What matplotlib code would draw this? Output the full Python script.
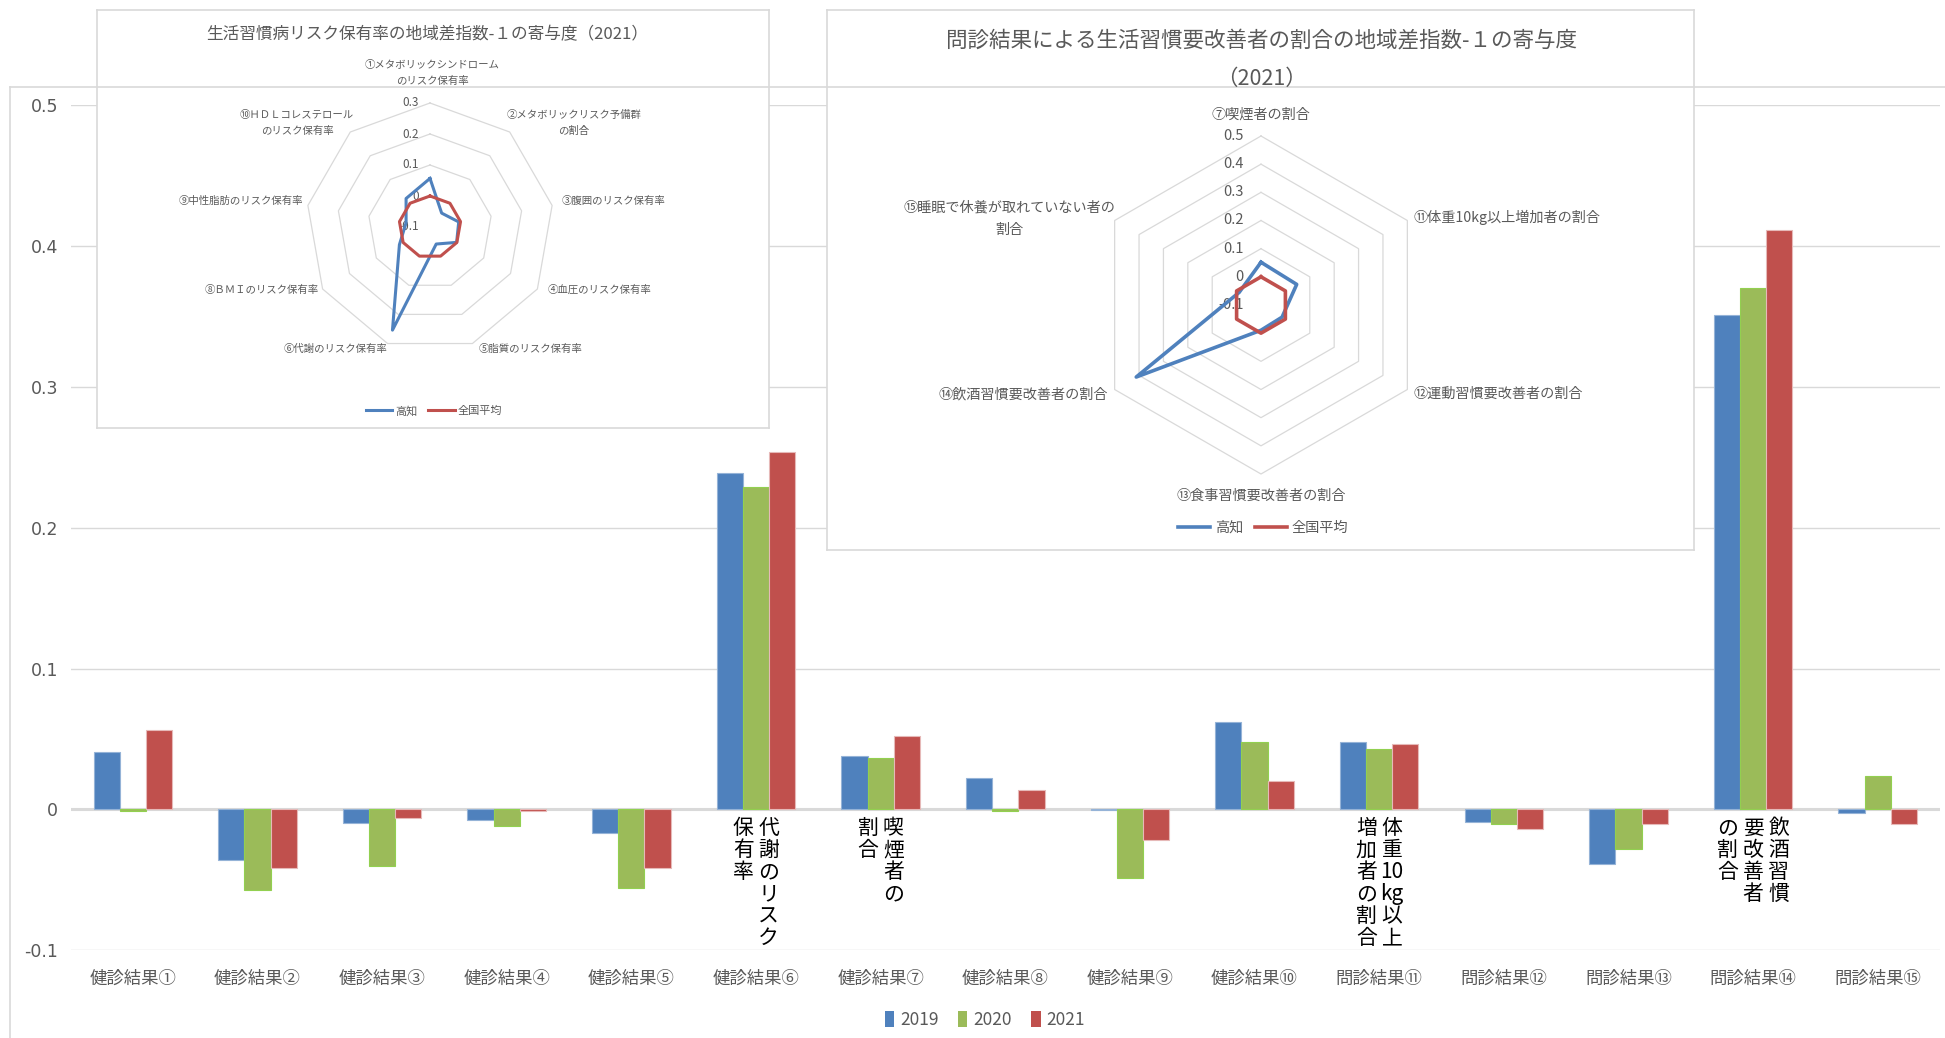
import matplotlib
matplotlib.use('Agg')
import matplotlib.pyplot as plt
import numpy as np
from matplotlib.patches import Patch
from matplotlib.lines import Line2D
import matplotlib.transforms as mtransforms

plt.rcParams['font.family'] = ['Noto Sans CJK JP', 'DejaVu Sans']

# ---------------- data ----------------
categories = ['健診結果①', '健診結果②', '健診結果③', '健診結果④', '健診結果⑤',
              '健診結果⑥', '健診結果⑦', '健診結果⑧', '健診結果⑨', '健診結果⑩',
              '問診結果⑪', '問診結果⑫', '問診結果⑬', '問診結果⑭', '問診結果⑮']
years = ['2019', '2020', '2021']
v2019 = [0.041, -0.036, -0.010, -0.0076, -0.017, 0.239, 0.0376, 0.022, -0.0005, 0.062,
         0.048, -0.0087, -0.039, 0.351, -0.0024]
v2020 = [-0.0014, -0.057, -0.0405, -0.012, -0.0555, 0.229, 0.0366, -0.0014, -0.0485, 0.048,
         0.043, -0.0104, -0.028, 0.370, 0.0234]
v2021 = [0.0567, -0.0415, -0.0059, -0.0008, -0.0415, 0.254, 0.0518, 0.0139, -0.0217, 0.020,
         0.0463, -0.0137, -0.0104, 0.4115, -0.0104]
yticks = [-0.1, 0, 0.1, 0.2, 0.3, 0.4, 0.5]
ytick_labels = ['-0.1', '0', '0.1', '0.2', '0.3', '0.4', '0.5']

# vertical annotations under bars (columns listed right-to-left)
annot_index = [5, 6, 10, 13]
annot_columns = [
    [['代', '謝', 'の', 'リ', 'ス', 'ク'], ['保', '有', '率']],
    [['喫', '煙', '者', 'の'], ['割', '合']],
    [['体', '重', '10', 'kg', '以', '上'], ['増', '加', '者', 'の', '割', '合']],
    [['飲', '酒', '習', '慣'], ['要', '改', '善', '者'], ['の', '割', '合']],
]

# radar 1
radar1_title = '生活習慣病リスク保有率の地域差指数-１の寄与度（2021）'
radar1_labels = ['①メタボリックシンドローム\nのリスク保有率', '②メタボリックリスク予備群\nの割合',
                 '③腹囲のリスク保有率', '④血圧のリスク保有率', '⑤脂質のリスク保有率',
                 '⑥代謝のリスク保有率', '⑧ＢＭＩのリスク保有率', '⑨中性脂肪のリスク保有率',
                 '⑩ＨＤＬコレステロール\nのリスク保有率']
radar1_kochi = [0.0567, -0.0415, -0.0059, -0.0008, -0.0415, 0.254, 0.0139, -0.0217, 0.020]
radar1_national = [0, 0, 0, 0, 0, 0, 0, 0, 0]
radar1_ticks = [-0.1, 0, 0.1, 0.2, 0.3]
radar1_ticklabels = ['-0.1', '0', '0.1', '0.2', '0.3']

# radar 2
radar2_title = '問診結果による生活習慣要改善者の割合の地域差指数-１の寄与度\n（2021）'
radar2_labels = ['⑦喫煙者の割合', '⑪体重10kg以上増加者の割合', '⑫運動習慣要改善者の割合',
                 '⑬食事習慣要改善者の割合', '⑭飲酒習慣要改善者の割合',
                 '⑮睡眠で休養が取れていない者の\n割合']
radar2_kochi = [0.0518, 0.0463, -0.0137, -0.0104, 0.4115, -0.0104]
radar2_national = [0, 0, 0, 0, 0, 0]
radar2_ticks = [-0.1, 0, 0.1, 0.2, 0.3, 0.4, 0.5]
radar2_ticklabels = ['-0.1', '0', '0.1', '0.2', '0.3', '0.4', '0.5']
legend_names = ['高知', '全国平均']

# ---------------- style ----------------
W, H = 1945, 1038
BLUE, GREEN, RED = '#4F81BD', '#9BBB59', '#C0504D'
EDGES = ['#95B3D7', '#92D050', '#E6B9B8']
GRAY = '#595959'
GRID = '#D9D9D9'

fig = plt.figure(figsize=(W / 100, H / 100), dpi=100)


def fx(px):
    return px / W


def fy(py):
    return 1 - py / H


# outer chart frame
fig.add_artist(Line2D([fx(10), fx(10)], [fy(87), 0], color=GRID, lw=1.2))
fig.add_artist(Line2D([fx(10), 1], [fy(87), fy(87)], color=GRID, lw=1.2))

# ---------------- main bar chart ----------------
left, right, top, bottom = 70.5, 1940, 105.4, 950.2
ax = fig.add_axes([fx(left), fy(bottom), fx(right - left), (bottom - top) / H])
x = np.arange(len(categories))
bw = 0.21
for i, (vals, col, ec, lab) in enumerate(zip([v2019, v2020, v2021], [BLUE, GREEN, RED], EDGES, years)):
    ax.bar(x + (i - 1) * bw, vals, width=bw, color=col, edgecolor=ec, linewidth=0.8, label=lab, zorder=3)
ax.set_xlim(-0.5, len(categories) - 0.5)
ax.set_ylim(-0.1, 0.5)
ax.set_yticks(yticks)
ax.set_yticklabels(ytick_labels, fontfamily='DejaVu Sans', fontsize=12.5, color=GRAY)
ax.set_xticks(x)
ax.set_xticklabels(categories, fontsize=12.5, color=GRAY)
ax.tick_params(axis='both', length=0)
ax.tick_params(axis='y', pad=9)
ax.tick_params(axis='x', pad=14)
for s in ax.spines.values():
    s.set_visible(False)
ax.grid(axis='y', color=GRID, lw=1.0, zorder=0)
ax.axhline(0, color=GRID, lw=2.2, zorder=2)

# vertical text annotations
pitch = 22.0
colgap = 25.6
for idx, cols in zip(annot_index, annot_columns):
    n = len(cols)
    for ci, chars in enumerate(cols):
        dx = ((n - 1) / 2 - ci) * colgap
        for ri, ch in enumerate(chars):
            tr = mtransforms.offset_copy(ax.transData, fig=fig, x=dx, y=-(19 + ri * pitch), units='dots')
            ax.text(idx, 0, ch, transform=tr, ha='center', va='center', fontsize=15, color='black', zorder=5)

handles = [Patch(facecolor=c, edgecolor='none') for c in [BLUE, GREEN, RED]]
fig.legend(handles, years, loc='center', bbox_to_anchor=(fx(985), fy(1020)), ncol=3, frameon=False,
           fontsize=12.5, handlelength=0.55, handleheight=1.0, handletextpad=0.35, columnspacing=1.1,
           labelcolor=GRAY)


# ---------------- radar helper ----------------
def box_axes(x0, y0, x1, y1):
    b = fig.add_axes([fx(x0), fy(y1), fx(x1 - x0), (y1 - y0) / H])
    b.set_xticks([])
    b.set_yticks([])
    b.set_facecolor('white')
    for s in b.spines.values():
        s.set_color(GRID)
        s.set_linewidth(1.2)
    return b


def radar_axes(cx, cy, radius_px, rmin, rmax, half=260):
    a = fig.add_axes([fx(cx - half), fy(cy + half), fx(2 * half), 2 * half / H])
    a.set_xlim(-half, half)
    a.set_ylim(-half, half)
    a.axis('off')
    a.patch.set_alpha(0)
    scale = radius_px / (rmax - rmin)
    return a, scale


def radar_xy(vals, n, scale, rmin, close=True):
    ang = np.arange(n) * 2 * np.pi / n
    r = (np.asarray(vals, dtype=float) - rmin) * scale
    xs, ys = r * np.sin(ang), r * np.cos(ang)
    if close:
        xs, ys = np.append(xs, xs[0]), np.append(ys, ys[0])
    return xs, ys


# ---------------- radar 1 ----------------
box_axes(97, 10, 769, 428)
fig.text(fx(427), fy(35), radar1_title, ha='center', va='center', fontsize=12, color=GRAY)
cx1, cy1, R1 = 430, 227, 124
a1, s1 = radar_axes(cx1, cy1, R1, radar1_ticks[0], radar1_ticks[-1])
n1 = len(radar1_labels)
for t in radar1_ticks[1:]:
    gx, gy = radar_xy([t] * n1, n1, s1, radar1_ticks[0])
    a1.plot(gx, gy, color=GRID, lw=0.9, zorder=1)
for t, tl in zip(radar1_ticks, radar1_ticklabels):
    a1.text(-11, (t - radar1_ticks[0]) * s1, tl, ha='right', va='center', fontsize=8.5, color=GRAY)
bx, by = radar_xy(radar1_kochi, n1, s1, radar1_ticks[0])
a1.plot(bx, by, color=BLUE, lw=2.2, zorder=3)
rx, ry = radar_xy(radar1_national, n1, s1, radar1_ticks[0])
a1.plot(rx, ry, color=RED, lw=2.2, zorder=3)

r1_pos = [(432, 73, 'center'), (574, 123, 'center'), (562, 201, 'left'), (548, 290, 'left'),
          (479, 349, 'left'), (387, 349, 'right'), (319, 290, 'right'), (303, 201, 'right'),
          (297, 123, 'center')]
for lab, (px, py, ha) in zip(radar1_labels, r1_pos):
    fig.text(fx(px), fy(py), lab, ha=ha, va='center', fontsize=7.5, color=GRAY, linespacing=1.75,
             multialignment='center')
lh = [Line2D([0], [0], color=BLUE, lw=2.2), Line2D([0], [0], color=RED, lw=2.2)]
fig.legend(lh, legend_names, loc='center', bbox_to_anchor=(fx(434), fy(411)), ncol=2, frameon=False,
           fontsize=8, handlelength=2.4, handletextpad=0.3, columnspacing=0.9, labelcolor=GRAY)

# ---------------- radar 2 ----------------
box_axes(827, 10, 1694, 550)
fig.text(fx(1261), fy(60), radar2_title, ha='center', va='center', fontsize=15.5, color=GRAY,
         linespacing=1.95)
cx2, cy2, R2 = 1261, 305, 169
a2, s2 = radar_axes(cx2, cy2, R2, radar2_ticks[0], radar2_ticks[-1])
n2 = len(radar2_labels)
for t in radar2_ticks[1:]:
    gx, gy = radar_xy([t] * n2, n2, s2, radar2_ticks[0])
    a2.plot(gx, gy, color=GRID, lw=0.9, zorder=1)
for t, tl in zip(radar2_ticks, radar2_ticklabels):
    a2.text(-17, (t - radar2_ticks[0]) * s2, tl, ha='right', va='center', fontsize=10.5, color=GRAY)
bx, by = radar_xy(radar2_kochi, n2, s2, radar2_ticks[0])
a2.plot(bx, by, color=BLUE, lw=2.6, zorder=3)
rx, ry = radar_xy(radar2_national, n2, s2, radar2_ticks[0])
a2.plot(rx, ry, color=RED, lw=2.6, zorder=3)

r2_pos = [(1261, 115, 'center'), (1414, 217, 'left'), (1414, 394, 'left'), (1261, 496, 'center'),
          (1108, 394, 'right'), (1009, 219, 'center')]
for lab, (px, py, ha) in zip(radar2_labels, r2_pos):
    fig.text(fx(px), fy(py), lab, ha=ha, va='center', fontsize=10.2, color=GRAY, linespacing=1.75,
             multialignment='center')
lh = [Line2D([0], [0], color=BLUE, lw=2.6), Line2D([0], [0], color=RED, lw=2.6)]
fig.legend(lh, legend_names, loc='center', bbox_to_anchor=(fx(1263), fy(528)), ncol=2, frameon=False,
           fontsize=10.2, handlelength=2.3, handletextpad=0.3, columnspacing=0.85, labelcolor=GRAY)

fig.savefig('out.png', dpi=100, facecolor='white')
